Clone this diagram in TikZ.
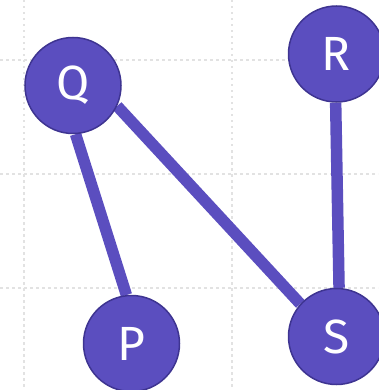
\documentclass[tikz,border=0pt]{standalone}
\usepackage{fontspec}
\setmainfont{Fira Sans}
\usetikzlibrary{backgrounds}
\definecolor{vfill}{HTML}{5B4EBF}
\definecolor{vborder}{HTML}{3E3491}
\definecolor{gridgray}{HTML}{E2E2E2}
\tikzset{
  vertex/.style={circle, fill=vfill, draw=vborder, line width=1.5pt,
    minimum size=96pt, inner sep=0pt, text=white,
    font=\fontsize{48}{48}\selectfont},
  edge/.style={draw=vfill, line width=11.5pt},
  gridline/.style={draw=gridgray, line width=2pt, dash pattern=on 2.5pt off 3.5pt},
}
\begin{document}
\begin{tikzpicture}[x=1pt, y=-1pt]
  \useasboundingbox (0,0) rectangle (378,390);
  % vertices
  \node[vertex] (Q) at (73,85.5) {\raisebox{-3pt}{Q}};
  \node[vertex] (R) at (336.5,54) {\raisebox{-3pt}{R}};
  \node[vertex] (P) at (131.5,343.5) {\raisebox{-2pt}{P}};
  \node[vertex] (S) at (336.5,336.5) {\raisebox{-3pt}{S}};
  \begin{scope}[on background layer]
    % background grid
    \draw[gridline] (24,0) -- (24,390);
    \draw[gridline] (232,0) -- (232,390);
    \draw[gridline] (0,60) -- (378,60);
    \draw[gridline] (0,173.5) -- (378,173.5);
    \draw[gridline] (0,287.5) -- (378,287.5);
    % edges, beneath the vertices
    \path[edge] (Q.-87.6) -- (P.96.2);
    \path[edge] (Q.-25.3) -- (S.138.8);
    \path[edge] (R.-91.8) -- (S.87);
  \end{scope}
\end{tikzpicture}
\end{document}
